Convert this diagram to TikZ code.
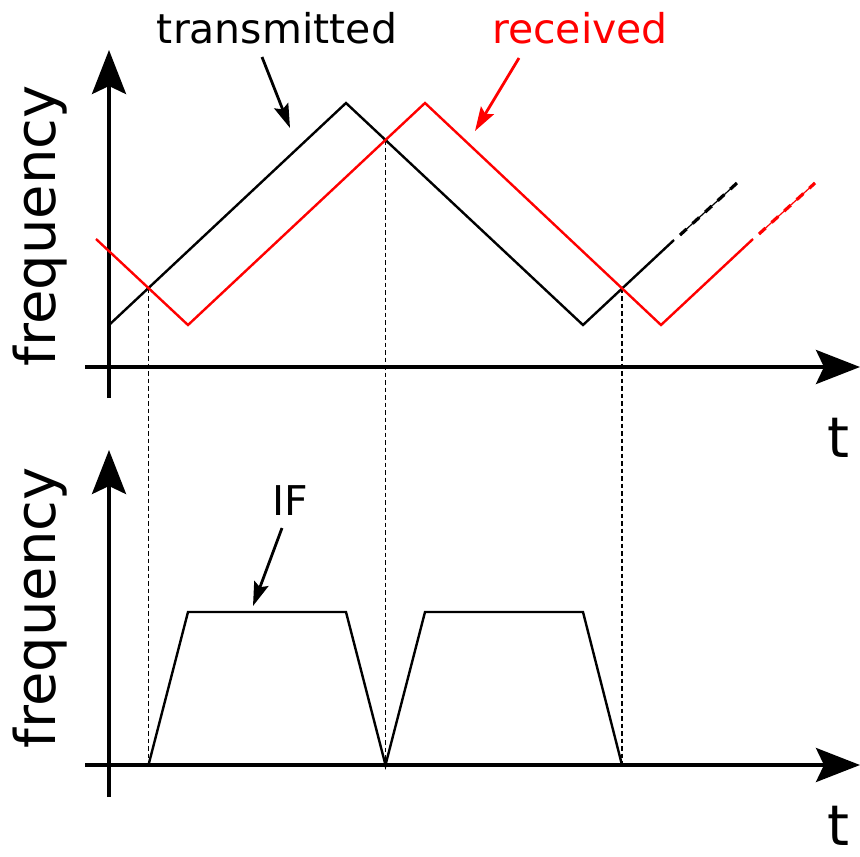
\documentclass[tikz,border=0pt]{standalone}
\usepackage{fontspec}
\setmainfont{DejaVu Sans}
\usetikzlibrary{arrows.meta}
\begin{document}
\begin{tikzpicture}[x=1pt,y=-1pt,
  axis/.style={line width=3.8pt,-{Stealth[length=44pt,width=34pt,inset=8pt]}},
  sig/.style={line width=2.4pt,line join=miter},
  drop/.style={line width=1.6pt,dash pattern=on 4.5pt off 3pt},
  lblarrow/.style={line width=2.8pt,-{Stealth[length=24pt,width=15pt,inset=4pt]}},
  biglbl/.style={font=\fontsize{56}{60}\selectfont},
  lbl/.style={font=\fontsize{41}{46}\selectfont}]
\useasboundingbox (0,0) rectangle (860,857);
% coordinates
\coordinate (b0) at (109,325);
\coordinate (b1) at (346,103);
\coordinate (b2) at (583,325);
\coordinate (b3) at (674,240);
\coordinate (b4) at (680,235);
\coordinate (b5) at (737,183);
\coordinate (r0) at (96,239);
\coordinate (r1) at (188,325);
\coordinate (r2) at (425,103);
\coordinate (r3) at (661,325);
\coordinate (r4) at (753,239);
\coordinate (r5) at (759,234);
\coordinate (r6) at (815,183);
\coordinate (x1) at (148.5,288.5);
\coordinate (x2) at (385.5,140);
\coordinate (x3) at (622,288.5);
\coordinate (y1) at (148.5,765);
\coordinate (y2) at (385.5,765);
\coordinate (y3) at (622,765);
% axes
\coordinate (va0) at (109,398); \coordinate (va1) at (109,50);
\coordinate (ha0) at (85,367); \coordinate (ha1) at (860,367);
\coordinate (vb0) at (109,797); \coordinate (vb1) at (109,450);
\coordinate (hb0) at (85,765); \coordinate (hb1) at (860,765);
\draw[axis] (va0) -- (va1);
\draw[axis] (ha0) -- (ha1);
\draw[axis] (vb0) -- (vb1);
\draw[axis] (hb0) -- (hb1);
% dropped lines
\draw[drop] (x1) -- (y1);
\draw[drop] (x2) -- (y2);
\draw[drop] (x3) -- (y3);
% signals
\draw[sig,black] (b0) -- (b1) -- (b2) -- (b3);
\draw[line width=1.2pt,black] (b4) -- (b5);
\draw[line width=3.2pt,black,dash pattern=on 9pt off 8pt] (b4) -- (b5);
\draw[sig,red] (r0) -- (r1) -- (r2) -- (r3) -- (r4);
\draw[line width=1.2pt,red] (r5) -- (r6);
\draw[line width=3.2pt,red,dash pattern=on 9pt off 8pt] (r5) -- (r6);
% IF
\draw[sig] (y1) -- (188,612) -- (346,612) -- (y2) -- (425,612) -- (583,612) -- (y3);
% labels
\node[lbl,anchor=base] (tx) at (277,43) {transmitted};
\node[lbl,anchor=base,text=red] (rx) at (580,43) {received};
\node[lbl,anchor=base] (if) at (290,515) {IF};
\node[biglbl,rotate=90] (fa) at (40,226) {frequency};
\node[biglbl,rotate=90] (fb) at (40,608) {frequency};
\node[biglbl,anchor=base,inner sep=0pt] (ta) at (838,457) {t};
\node[biglbl,anchor=base,inner sep=0pt] (tb) at (838,845) {t};
% label arrows
\coordinate (ta0) at (262,57); \coordinate (ta1) at (290,128);
\coordinate (ra0) at (519,58); \coordinate (ra1) at (475,131);
\coordinate (ia0) at (282,528); \coordinate (ia1) at (253,606);
\draw[lblarrow] (ta0) -- (ta1);
\draw[lblarrow,red] (ra0) -- (ra1);
\draw[lblarrow] (ia0) -- (ia1);
\end{tikzpicture}
\end{document}
